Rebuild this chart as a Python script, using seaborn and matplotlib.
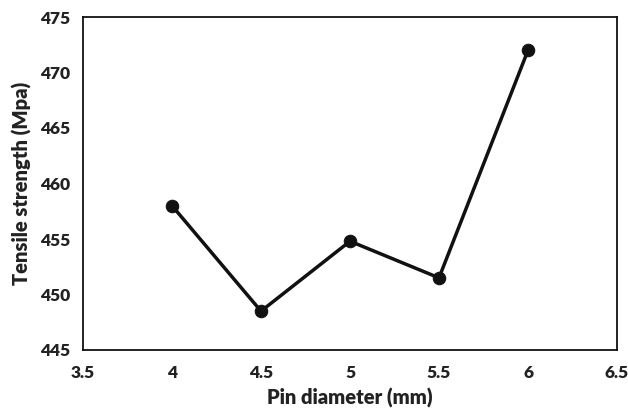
import matplotlib
matplotlib.use("Agg")
import matplotlib.pyplot as plt
import seaborn as sns
import pandas as pd

pin_diameter = [4.0, 4.5, 5.0, 5.5, 6.0]
tensile_strength = [458.0, 448.5, 454.8, 451.5, 472.0]

x_ticks = [3.5, 4, 4.5, 5, 5.5, 6, 6.5]
x_tick_labels = ["3.5", "4", "4.5", "5", "5.5", "6", "6.5"]
y_ticks = [445, 450, 455, 460, 465, 470, 475]

sns.set_theme(style="white")
plt.rcParams["font.family"] = ["Lato", "DejaVu Sans"]
plt.rcParams["font.weight"] = "heavy"

df = pd.DataFrame({"Pin diameter (mm)": pin_diameter,
                   "Tensile strength (Mpa)": tensile_strength})

fig = plt.figure(figsize=(6.28, 4.09), dpi=100)
ax = fig.add_axes([83 / 628, 1 - 350 / 409, (617 - 83) / 628, (350 - 17) / 409])

sns.lineplot(data=df, x="Pin diameter (mm)", y="Tensile strength (Mpa)", ax=ax,
             color="#111111", linewidth=2.5, marker="o", markersize=9,
             markeredgecolor="#111111", markerfacecolor="#111111")

ax.set_xlim(3.5, 6.5)
ax.set_ylim(445, 475)
ax.set_xticks(x_ticks)
ax.set_xticklabels(x_tick_labels)
ax.set_yticks(y_ticks)
ax.tick_params(axis="both", length=0, labelsize=12.5, colors="#222222")
ax.tick_params(axis="x", pad=11)
ax.tick_params(axis="y", pad=9)
for lbl in ax.get_xticklabels() + ax.get_yticklabels():
    lbl.set_fontweight("heavy")

ax.set_xlabel("Pin diameter (mm)", fontsize=14.5, fontweight="heavy", color="#222222", labelpad=5)
ax.set_ylabel("Tensile strength (Mpa)", fontsize=14.5, fontweight="heavy", color="#222222", labelpad=6)

for s in ax.spines.values():
    s.set_visible(True)
    s.set_color("#111111")
    s.set_linewidth(1.3)

fig.savefig("out.png", dpi=100, facecolor="white")
